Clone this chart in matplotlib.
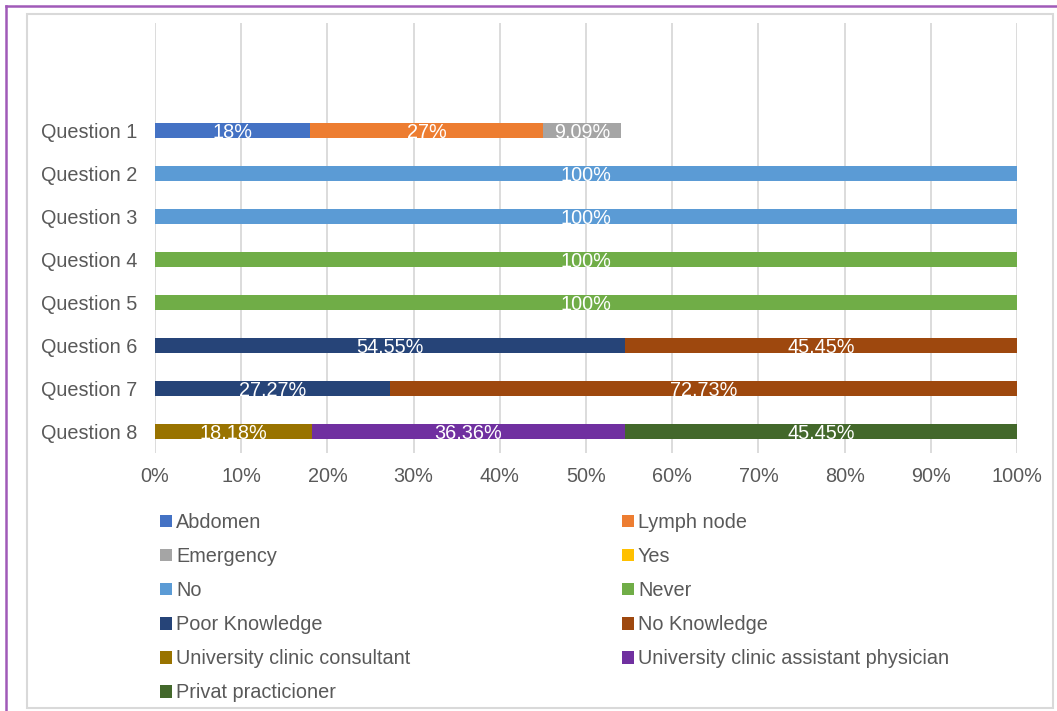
import matplotlib
matplotlib.use('Agg')
import matplotlib.pyplot as plt
from matplotlib.patches import Patch, Rectangle
from matplotlib.lines import Line2D

plt.rcParams['font.family'] = ['Liberation Sans', 'DejaVu Sans']

# questions (top to bottom)
questions = ['Question 1', 'Question 2', 'Question 3', 'Question 4',
             'Question 5', 'Question 6', 'Question 7', 'Question 8']

# answer series, percent of respondents per question
series_names = ['Abdomen', 'Lymph node', 'Emergency', 'Yes', 'No', 'Never',
                'Poor Knowledge', 'No Knowledge', 'University clinic consultant',
                'University clinic assistant physician', 'Privat practicioner']
abdomen = [18, 0, 0, 0, 0, 0, 0, 0]
lymph_node = [27, 0, 0, 0, 0, 0, 0, 0]
emergency = [9.09, 0, 0, 0, 0, 0, 0, 0]
yes = [0, 0, 0, 0, 0, 0, 0, 0]
no = [0, 100, 100, 0, 0, 0, 0, 0]
never = [0, 0, 0, 100, 100, 0, 0, 0]
poor_knowledge = [0, 0, 0, 0, 0, 54.55, 27.27, 0]
no_knowledge = [0, 0, 0, 0, 0, 45.45, 72.73, 0]
uni_consultant = [0, 0, 0, 0, 0, 0, 0, 18.18]
uni_assistant = [0, 0, 0, 0, 0, 0, 0, 36.36]
privat = [0, 0, 0, 0, 0, 0, 0, 45.45]

all_values = [abdomen, lymph_node, emergency, yes, no, never, poor_knowledge,
              no_knowledge, uni_consultant, uni_assistant, privat]
colors = ['#4472C4', '#ED7D31', '#A5A5A5', '#FFC000', '#5B9BD5', '#70AD47',
          '#264478', '#9E480E', '#997300', '#7030A0', '#43682B']

text_col = '#595959'
fs = 14.3


def fmt(v):
    if float(v).is_integer():
        return f'{int(v)}%'
    return f'{v:.2f}'.replace('.', ',') + '%'


fig = plt.figure(figsize=(10.57, 7.11), dpi=100)
ax = fig.add_axes([155 / 1057, 1 - 453 / 711, 862 / 1057, 430 / 711])

ypos = list(range(len(questions)))
left = [0.0] * len(questions)
for name, vals, c in zip(series_names, all_values, colors):
    bars = ax.barh(ypos, vals, left=left, height=0.36, color=c, zorder=3)
    for b, v in zip(bars, vals):
        if v > 0:
            ax.text(b.get_x() + b.get_width() / 2, b.get_y() + b.get_height() / 2 + 0.04,
                    fmt(v), ha='center', va='center', color='white', fontsize=fs, zorder=4)
    left = [l + v for l, v in zip(left, vals)]

ax.set_xlim(0, 100)
ax.set_ylim(7.5, -2.5)
ax.set_yticks(ypos)
ax.set_yticklabels(questions)
ax.set_xticks(range(0, 101, 10))
ax.set_xticklabels([f'{t}%' for t in range(0, 101, 10)])
ax.tick_params(axis='both', length=0, labelsize=fs, colors=text_col)
ax.tick_params(axis='y', pad=13)
ax.tick_params(axis='x', pad=10)
ax.xaxis.grid(True, color='#D9D9D9', linewidth=1.3, zorder=0)
for s in ax.spines.values():
    s.set_visible(False)

# legend in two columns, row-major order
col1 = [0, 2, 4, 6, 8, 10]
col2 = [1, 3, 5, 7, 9]
for idx, x0 in [(col1, 160 / 1057), (col2, 622 / 1057)]:
    handles = [Patch(facecolor=colors[i], edgecolor='none') for i in idx]
    labels = [series_names[i] for i in idx]
    fig.legend(handles, labels, loc='upper left', bbox_to_anchor=(x0, 1 - 513 / 711),
               frameon=False, fontsize=fs, labelcolor=text_col, handlelength=0.6,
               handleheight=0.6, handletextpad=0.2, labelspacing=0.76, borderpad=0,
               borderaxespad=0)

# chart area border and outer frame
fig.add_artist(Rectangle((27 / 1057, 1 - 708 / 711), 1026 / 1057, 694 / 711,
                         transform=fig.transFigure, fill=False, edgecolor='#D9D9D9', linewidth=1.5))
fig.add_artist(Line2D([6 / 1057, 6 / 1057], [0, 1 - 6 / 711], transform=fig.transFigure,
                      color='#A05AB8', linewidth=1.8))
fig.add_artist(Line2D([6 / 1057, 1], [1 - 6 / 711, 1 - 6 / 711], transform=fig.transFigure,
                      color='#A05AB8', linewidth=1.8))

fig.savefig('out.png', dpi=100)
